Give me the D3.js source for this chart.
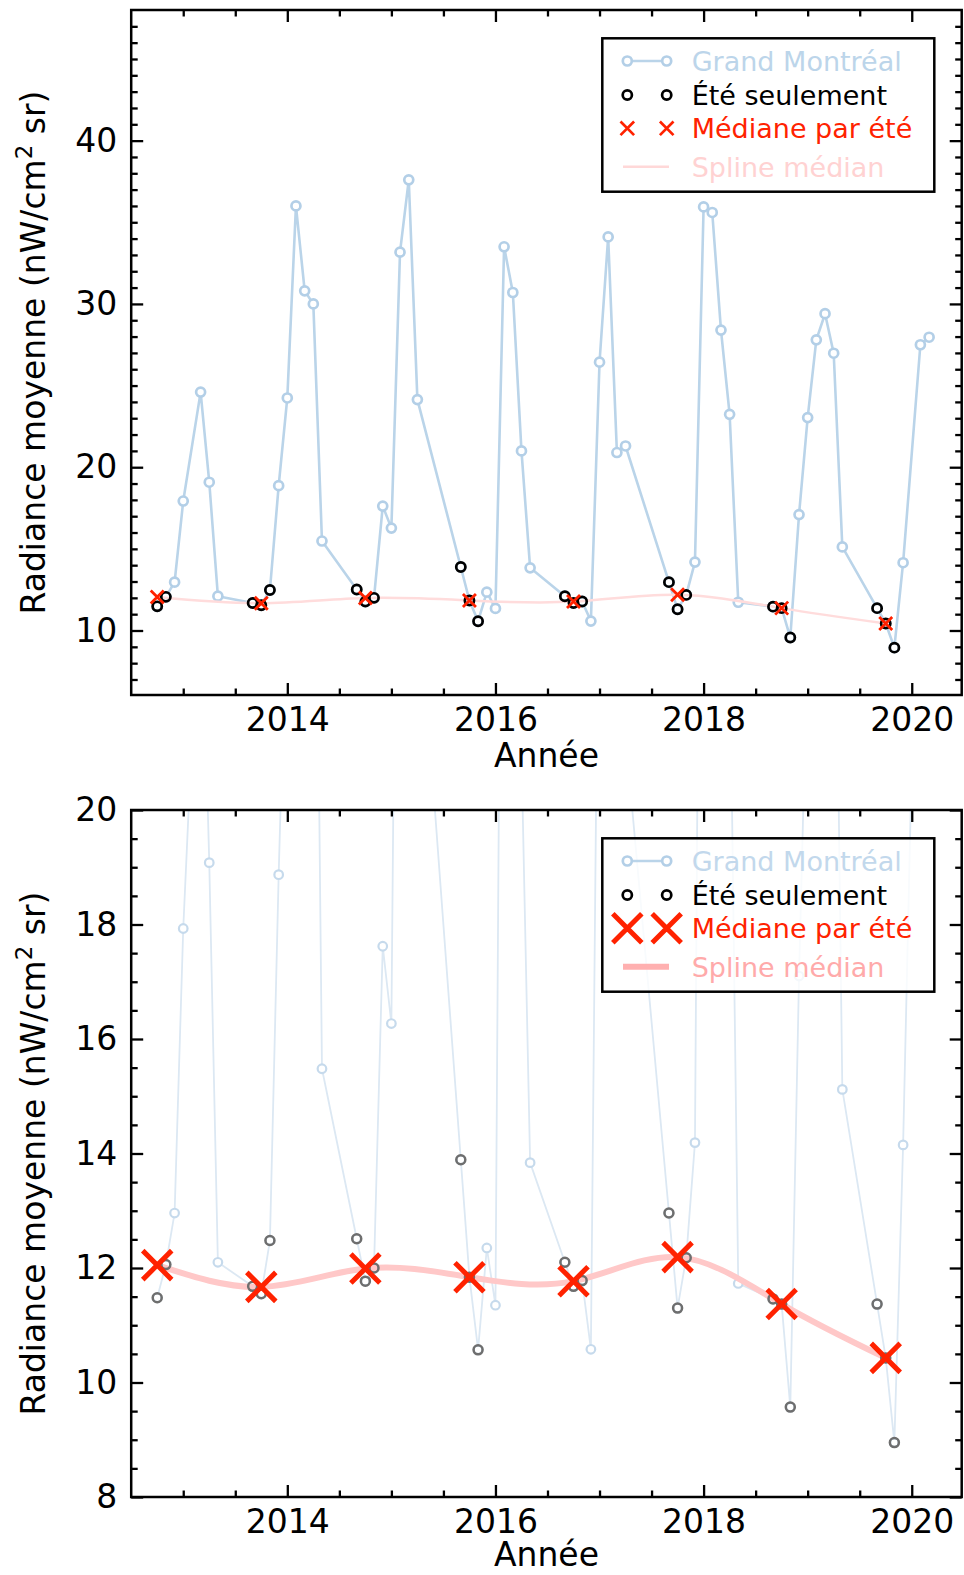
<!DOCTYPE html>
<html>
<head>
<meta charset="utf-8">
<script src="https://cdn.jsdelivr.net/npm/d3@7"></script>
<style>
  body { margin: 0; background: #ffffff; }
  svg { display: block; }
  text { font-family: "DejaVu Sans", sans-serif; }
</style>
</head>
<body>
<svg id="chart" width="964" height="1575"></svg>
<script>
// ---------------- DATA ----------------
// Monthly mean radiance, Grand Montréal (decimal year)
const gmDates = [
  2012.750, 2012.833, 2012.917, 2013.000, 2013.167, 2013.250, 2013.333,
  2013.667, 2013.750, 2013.833, 2013.917, 2014.000, 2014.083, 2014.167, 2014.250, 2014.333,
  2014.667, 2014.750, 2014.833, 2014.917, 2015.000, 2015.083, 2015.167, 2015.250,
  2015.667, 2015.750, 2015.833, 2015.917, 2016.000, 2016.083, 2016.167, 2016.250, 2016.333,
  2016.667, 2016.750, 2016.833, 2016.917, 2017.000, 2017.083, 2017.167, 2017.250,
  2017.667, 2017.750, 2017.833, 2017.917, 2018.000, 2018.083, 2018.167, 2018.250, 2018.333,
  2018.667, 2018.750, 2018.833, 2018.917, 2019.000, 2019.083, 2019.167, 2019.250, 2019.333,
  2019.667, 2019.750, 2019.833, 2019.917, 2020.083, 2020.167
];
const gmValues = [
  11.48, 12.06, 12.96, 17.93, 24.60, 19.08, 12.10,
  11.68, 11.55, 12.48, 18.87, 24.24, 36.00, 30.80, 30.00, 15.48,
  12.51, 11.77, 12.00, 17.62, 16.27, 33.17, 37.60, 24.14,
  13.89, 11.84, 10.57, 12.35, 11.35, 33.50, 30.70, 21.00, 13.84,
  12.10, 11.68, 11.78, 10.58, 26.43, 34.10, 20.90, 21.30,
  12.96, 11.30, 12.18, 14.19, 35.94, 35.60, 28.40, 23.24, 11.73,
  11.46, 11.37, 9.57, 17.10, 23.04, 27.80, 29.40, 26.98, 15.12,
  11.37, 10.43, 8.95, 14.15, 27.50, 27.96
];
// Summer-only observations
const summerDates = [
  2012.750, 2012.833,
  2013.667, 2013.750, 2013.833,
  2014.667, 2014.750, 2014.833,
  2015.667, 2015.750, 2015.833,
  2016.667, 2016.750, 2016.833,
  2017.667, 2017.750, 2017.833,
  2018.667, 2018.750, 2018.833,
  2019.667, 2019.750, 2019.833
];
const summerValues = [
  11.48, 12.06,
  11.68, 11.55, 12.48,
  12.51, 11.77, 12.00,
  13.89, 11.84, 10.57,
  12.10, 11.68, 11.78,
  12.96, 11.30, 12.18,
  11.46, 11.37, 9.57,
  11.37, 10.43, 8.95
];
// Median per summer
const medianDates = [2012.75, 2013.75, 2014.75, 2015.75, 2016.75, 2017.75, 2018.75, 2019.75];
const medianValues = [12.05, 11.67, 11.99, 11.84, 11.77, 12.19, 11.37, 10.43];

// Tick labels
const xTickLabels = [2014, 2016, 2018, 2020];
const topYTickLabels = [10, 20, 30, 40];
const bottomYTickLabels = [8, 10, 12, 14, 16, 18, 20];
const legendLabels = ["Grand Montréal", "Été seulement", "Médiane par été", "Spline médian"];
const xAxisTitle = "Année";

// ---------------- DRAWING ----------------
const svg = d3.select("#chart");
const X0 = 131.2, X1 = 961.7;
const x = d3.scaleLinear().domain([2012.5, 2020.48]).range([X0, X1]);

const RED = "#ff2200";

const panels = [
  {
    id: "top", y0: 10, y1: 695, yDomain: [6.05, 48.0], titleOffset: 72,
    yMajor: topYTickLabels, yMinor: d3.range(7, 48, 1).filter(v => v % 10 !== 0),
    blueLine: "#bad4e9", blueLineW: 2.6, blueMark: "#b3cfe7", blueMarkW: 2.7, blueR: 4.5,
    blackStroke: "#000000", blackW: 2.7, blackR: 4.6,
    xHalf: 6.5, xW: 2.8,
    splineColor: "#ffdcdc", splineW: 2.5,
    legTop: 38.3,
    legX: 6.8, legXW: 2.7, legSpline: "#ffd8d8", legSplineW: 2.5,
    legColors: ["#bcd5ea", "#000000", RED, "#ffd2d2"]
  },
  {
    id: "bottom", y0: 810, y1: 1497, yDomain: [8, 20], titleOffset: 69,
    yMajor: bottomYTickLabels, yMinor: d3.range(8.5, 20, 0.5).filter(v => v % 2 !== 0),
    blueLine: "#dce8f3", blueLineW: 1.8, blueMark: "#c6daec", blueMarkW: 2.2, blueR: 4.3,
    blackStroke: "#6e6e6e", blackW: 2.5, blackR: 4.5,
    xHalf: 14.5, xW: 5,
    splineColor: "#ffc8c8", splineW: 6,
    legTop: 838.3,
    legX: 14.5, legXW: 5, legSpline: "#ffb0b0", legSplineW: 6,
    legColors: ["#c2d8ec", "#000000", RED, "#ffaaaa"]
  }
];

function xPath(s) {
  return `M${-s},${-s}L${s},${s}M${-s},${s}L${s},${-s}`;
}

panels.forEach(p => {
  const y = d3.scaleLinear().domain(p.yDomain).range([p.y1, p.y0]);
  const g = svg.append("g");

  const clipId = "clip-" + p.id;
  svg.append("defs").append("clipPath").attr("id", clipId)
    .append("rect").attr("x", X0).attr("y", p.y0).attr("width", X1 - X0).attr("height", p.y1 - p.y0);

  const data = g.append("g").attr("clip-path", `url(#${clipId})`);

  // Blue series
  const gm = gmDates.map((d, i) => [d, gmValues[i]]);
  data.append("path")
    .attr("d", d3.line().x(d => x(d[0])).y(d => y(d[1]))(gm))
    .attr("fill", "none").attr("stroke", p.blueLine).attr("stroke-width", p.blueLineW)
    .attr("stroke-linejoin", "round");
  data.selectAll(null).data(gm).enter().append("circle")
    .attr("cx", d => x(d[0])).attr("cy", d => y(d[1])).attr("r", p.blueR)
    .attr("fill", "#ffffff").attr("stroke", p.blueMark).attr("stroke-width", p.blueMarkW);

  // Spline through medians
  const med = medianDates.map((d, i) => [d, medianValues[i]]);
  data.append("path")
    .attr("d", d3.line().x(d => x(d[0])).y(d => y(d[1])).curve(d3.curveNatural)(med))
    .attr("fill", "none").attr("stroke", p.splineColor).attr("stroke-width", p.splineW)
    .attr("stroke-linecap", "butt");

  // Summer circles
  const su = summerDates.map((d, i) => [d, summerValues[i]]);
  data.selectAll(null).data(su).enter().append("circle")
    .attr("cx", d => x(d[0])).attr("cy", d => y(d[1])).attr("r", p.blackR)
    .attr("fill", "none").attr("stroke", p.blackStroke).attr("stroke-width", p.blackW);

  // Median X markers
  data.selectAll(null).data(med).enter().append("path")
    .attr("transform", d => `translate(${x(d[0])},${y(d[1])})`)
    .attr("d", xPath(p.xHalf))
    .attr("fill", "none").attr("stroke", RED).attr("stroke-width", p.xW);

  // Axes (inward ticks on all sides)
  const xMinor = d3.range(2013, 2020.01, 0.5).filter(v => v % 2 !== 0);
  const styleAxis = sel => {
    sel.select(".domain").remove();
    sel.selectAll("line").attr("stroke", "#000").attr("stroke-width", 2.3);
    sel.selectAll("text").attr("fill", "#000").style("font-size", "33px")
      .style("font-family", "'DejaVu Sans', sans-serif");
  };
  g.append("g").attr("transform", `translate(0,${p.y1})`)
    .call(d3.axisBottom(x).tickValues(xTickLabels).tickSize(-12).tickPadding(13).tickFormat(d3.format("d")))
    .call(styleAxis);
  g.append("g").attr("transform", `translate(0,${p.y1})`)
    .call(d3.axisBottom(x).tickValues(xMinor).tickSize(-6.5).tickFormat(""))
    .call(styleAxis);
  g.append("g").attr("transform", `translate(0,${p.y0})`)
    .call(d3.axisTop(x).tickValues(xTickLabels).tickSize(-12).tickFormat(""))
    .call(styleAxis);
  g.append("g").attr("transform", `translate(0,${p.y0})`)
    .call(d3.axisTop(x).tickValues(xMinor).tickSize(-6.5).tickFormat(""))
    .call(styleAxis);
  g.append("g").attr("transform", `translate(${X0},0)`)
    .call(d3.axisLeft(y).tickValues(p.yMajor).tickSize(-12).tickPadding(14).tickFormat(d3.format("d")))
    .call(styleAxis);
  g.append("g").attr("transform", `translate(${X0},0)`)
    .call(d3.axisLeft(y).tickValues(p.yMinor).tickSize(-6.5).tickFormat(""))
    .call(styleAxis);
  g.append("g").attr("transform", `translate(${X1},0)`)
    .call(d3.axisRight(y).tickValues(p.yMajor).tickSize(-12).tickFormat(""))
    .call(styleAxis);
  g.append("g").attr("transform", `translate(${X1},0)`)
    .call(d3.axisRight(y).tickValues(p.yMinor).tickSize(-6.5).tickFormat(""))
    .call(styleAxis);

  // Frame
  g.append("rect").attr("x", X0).attr("y", p.y0).attr("width", X1 - X0).attr("height", p.y1 - p.y0)
    .attr("fill", "none").attr("stroke", "#000").attr("stroke-width", 2.5);

  // Axis titles
  g.append("text").attr("x", (X0 + X1) / 2).attr("y", p.y1 + p.titleOffset)
    .attr("text-anchor", "middle").style("font-size", "33px").attr("fill", "#000")
    .text(xAxisTitle);
  const yt = g.append("text")
    .attr("transform", `translate(45,${(p.y0 + p.y1) / 2}) rotate(-90)`)
    .attr("text-anchor", "middle").style("font-size", "33px").attr("fill", "#000");
  yt.append("tspan").text("Radiance moyenne (nW/cm");
  yt.append("tspan").attr("dy", -13).style("font-size", "23px").text("2");
  yt.append("tspan").attr("dy", 13).text(" sr)");

  // Legend
  const L = g.append("g");
  const lx0 = 602.3, lx1 = 934.3, lh = 153.4;
  L.append("rect").attr("x", lx0).attr("y", p.legTop).attr("width", lx1 - lx0).attr("height", lh)
    .attr("fill", "#ffffff").attr("fill-opacity", 0.8).attr("stroke", "#000").attr("stroke-width", 2.5);
  const rows = [22.7, 56.7, 90.0, 128.4].map(o => p.legTop + o);
  const mx = [627.3, 666.7];
  // row 0: blue line + circles
  L.append("line").attr("x1", mx[0]).attr("x2", mx[1]).attr("y1", rows[0]).attr("y2", rows[0])
    .attr("stroke", "#bad4e9").attr("stroke-width", 2.6);
  mx.forEach(m => L.append("circle").attr("cx", m).attr("cy", rows[0]).attr("r", 4.5)
    .attr("fill", "#ffffff").attr("stroke", "#b3cfe7").attr("stroke-width", 2.7));
  // row 1: black circles
  mx.forEach(m => L.append("circle").attr("cx", m).attr("cy", rows[1]).attr("r", 4.6)
    .attr("fill", "none").attr("stroke", "#000").attr("stroke-width", 2.7));
  // row 2: X
  mx.forEach(m => L.append("path").attr("transform", `translate(${m},${rows[2]})`)
    .attr("d", xPath(p.legX)).attr("fill", "none").attr("stroke", RED).attr("stroke-width", p.legXW));
  // row 3: spline line
  L.append("line").attr("x1", 623).attr("x2", 669).attr("y1", rows[3]).attr("y2", rows[3])
    .attr("stroke", p.legSpline).attr("stroke-width", p.legSplineW);
  legendLabels.forEach((t, i) => {
    L.append("text").attr("x", 691.7).attr("y", rows[i] + 10)
      .style("font-size", "27px").attr("fill", p.legColors[i]).text(t);
  });
});
</script>
</body>
</html>
